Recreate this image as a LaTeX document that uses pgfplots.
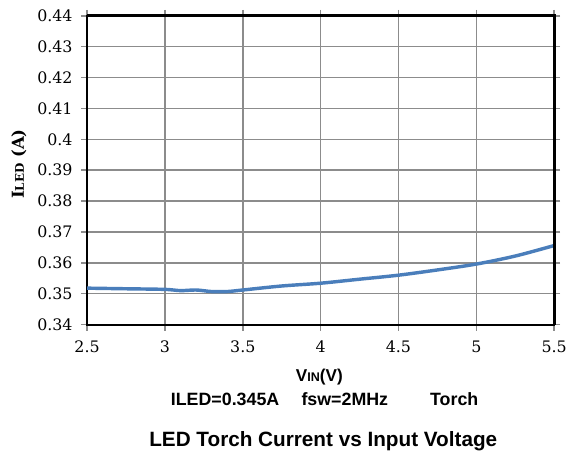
\documentclass[border=0pt]{standalone}
\usepackage{fontspec}
\setmainfont{DejaVu Serif}
\newfontfamily\lsans{Liberation Sans}
\usepackage{pgfplots}
\pgfplotsset{compat=1.18}
\definecolor{ledblue}{HTML}{4A7EBB}
\definecolor{gridgray}{HTML}{8C8C8C}
\begin{document}
\begin{tikzpicture}
  \begin{axis}[
    at={(0,0)}, anchor=south west,
    scale only axis,
    width=354pt, height=234pt,
    xmin=2.5, xmax=5.5,
    ymin=0.34, ymax=0.44,
    xtick={2.5,3,...,5.5},
    ytick={0.34,0.35,...,0.44},
    grid=major,
    major grid style={gridgray, line width=1.1pt},
    tick align=outside,
    major tick length=4.5pt,
    tick style={gridgray, line width=1.1pt},
    axis line style={black, line width=1.4pt},
    ticklabel style={font=\fontsize{12}{14}\selectfont},
    /pgf/number format/assume math mode=true,
    yticklabel style={/pgf/number format/fixed, /pgf/number format/precision=2, xshift=-3pt},
    xticklabel style={/pgf/number format/fixed, yshift=-4pt},
    ylabel={\textbf{I{\fontsize{9}{10}\selectfont LED} (A)}},
    ylabel style={at={(axis description cs:-0.146,0.52)}, anchor=center, font=\fontsize{12.5}{14}\selectfont},
    clip=false,
  ]
    \addplot[ledblue, line width=2.6pt, smooth, tension=0.5] coordinates {
      (2.50,0.3518)
      (2.75,0.3516)
      (3.00,0.3514)
      (3.10,0.3510)
      (3.20,0.3512)
      (3.30,0.3507)
      (3.40,0.3507)
      (3.50,0.3512)
      (3.75,0.3525)
      (4.00,0.3534)
      (4.25,0.3547)
      (4.50,0.3560)
      (4.75,0.3577)
      (5.00,0.3596)
      (5.25,0.3622)
      (5.50,0.3656)
    };
    \draw[black, line width=2.2pt] (rel axis cs:0,1) -- (rel axis cs:1,1) -- (rel axis cs:1,0);
  \end{axis}
  % labels below the axis
  \node[font=\lsans\bfseries\fontsize{13}{15}\selectfont] at (176pt,-39.75pt)
    {V{\fontsize{9.5}{11}\selectfont IN}(V)};
  \node[anchor=west, font=\lsans\bfseries\fontsize{13.5}{16}\selectfont] at (60pt,-56.6pt) {ILED=0.345A};
  \node[anchor=west, font=\lsans\bfseries\fontsize{13.5}{16}\selectfont] at (159pt,-56.6pt) {fsw=2MHz};
  \node[anchor=west, font=\lsans\bfseries\fontsize{13.5}{16}\selectfont] at (256.5pt,-56.6pt) {Torch};
  \node[font=\lsans\bfseries\fontsize{15.7}{18}\selectfont] at (179pt,-88.5pt)
    {LED Torch Current vs Input Voltage};
  \pgfresetboundingbox
  \useasboundingbox (-66pt,-99.75pt) rectangle (366pt,246pt);
\end{tikzpicture}
\end{document}
